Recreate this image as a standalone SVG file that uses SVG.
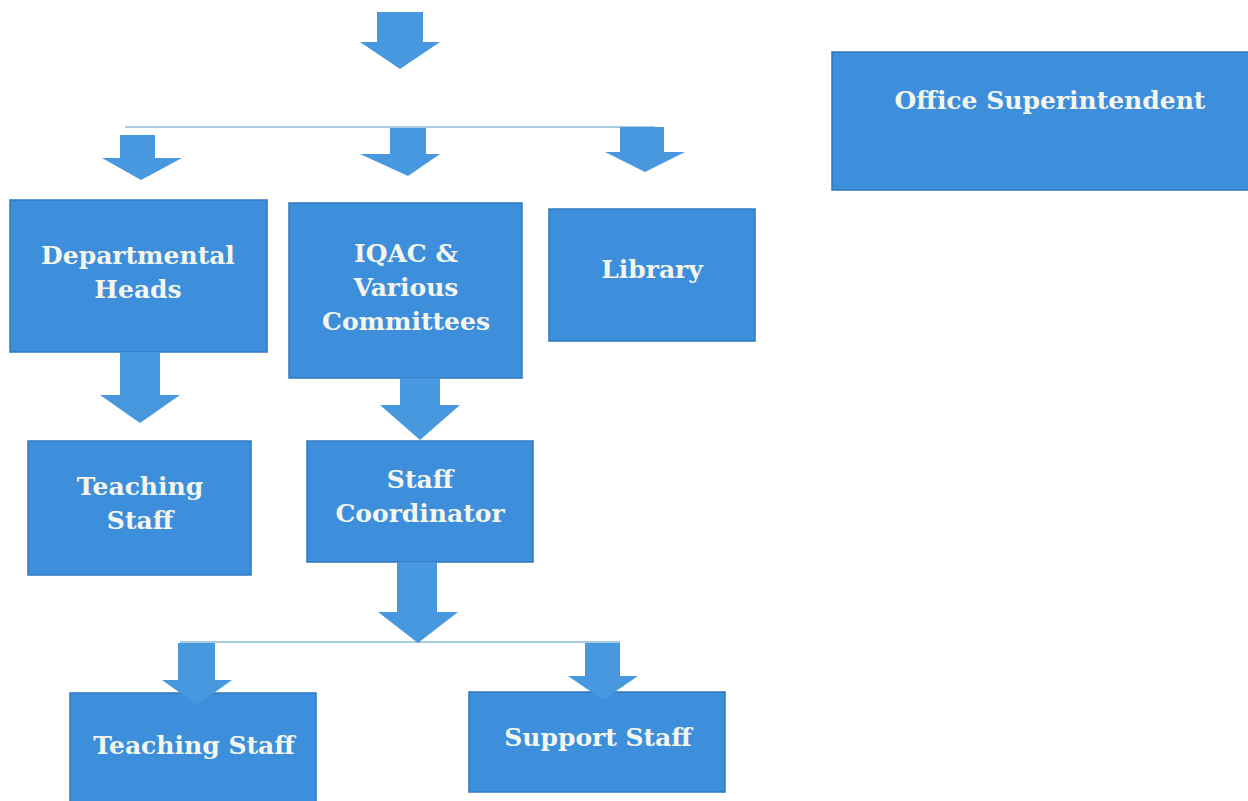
<svg xmlns="http://www.w3.org/2000/svg" width="1248" height="801" viewBox="0 0 1248 801">
<style>
.box{fill:#3d8fdc;stroke:#2f78bd;stroke-width:1.5}
.arr{fill:#4898e0}
.ln{stroke:#a9cbe0;stroke-width:2;fill:none}
.t{font-family:"DejaVu Serif","Liberation Serif",serif;font-weight:bold;font-size:25px;fill:#f4f6ee;text-anchor:middle}
</style>
<rect width="1248" height="801" fill="#ffffff"/>
<g id="office">
<rect class="box" x="832" y="52" width="420" height="138"/>
<text class="t" x="1050" y="109">Office Superintendent</text>
</g>
<g id="depheads">
<rect class="box" x="10" y="200" width="257" height="152"/>
<text class="t" x="138" y="264">Departmental</text>
<text class="t" x="138" y="298">Heads</text>
</g>
<g id="iqac">
<rect class="box" x="289" y="203" width="233" height="175"/>
<text class="t" x="406" y="262">IQAC &amp;</text>
<text class="t" x="406" y="296">Various</text>
<text class="t" x="406" y="330">Committees</text>
</g>
<g id="library">
<rect class="box" x="549" y="209" width="206" height="132"/>
<text class="t" x="652" y="278">Library</text>
</g>
<g id="teaching1">
<rect class="box" x="28" y="441" width="223" height="134"/>
<text class="t" x="140" y="495">Teaching</text>
<text class="t" x="140" y="529">Staff</text>
</g>
<g id="coordinator">
<rect class="box" x="307" y="441" width="226" height="121"/>
<text class="t" x="420" y="488">Staff</text>
<text class="t" x="420" y="522">Coordinator</text>
</g>
<g id="teaching2">
<rect class="box" x="70" y="693" width="246" height="112"/>
<text class="t" x="194" y="754">Teaching Staff</text>
</g>
<g id="support">
<rect class="box" x="469" y="692" width="256" height="100"/>
<text class="t" x="598" y="746">Support Staff</text>
</g>
<g id="connectors">
<line class="ln" x1="125" y1="127" x2="655" y2="127"/>
<line class="ln" x1="180" y1="642" x2="620" y2="642"/>
<polygon class="arr" points="377,12 423,12 423,42 440,42 400,69 360,42 377,42"/>
<polygon class="arr" points="120,135 155,135 155,158 182,158 141,180 102,158 120,158"/>
<polygon class="arr" points="390,128 426,128 426,154 440,154 408,176 360,154 390,154"/>
<polygon class="arr" points="620,127 664,127 664,152 685,152 645,172 605,152 620,152"/>
<polygon class="arr" points="120,352 160,352 160,395 180,395 140,423 100,395 120,395"/>
<polygon class="arr" points="400,378 440,378 440,405 460,405 420,440 380,405 400,405"/>
<polygon class="arr" points="397,562 437,562 437,612 458,612 418,643 378,612 397,612"/>
<polygon class="arr" points="178,643 215,643 215,680 232,680 197,705 162,680 178,680"/>
<polygon class="arr" points="585,643 620,643 620,676 638,676 603,700 568,676 585,676"/>
</g>
</svg>
